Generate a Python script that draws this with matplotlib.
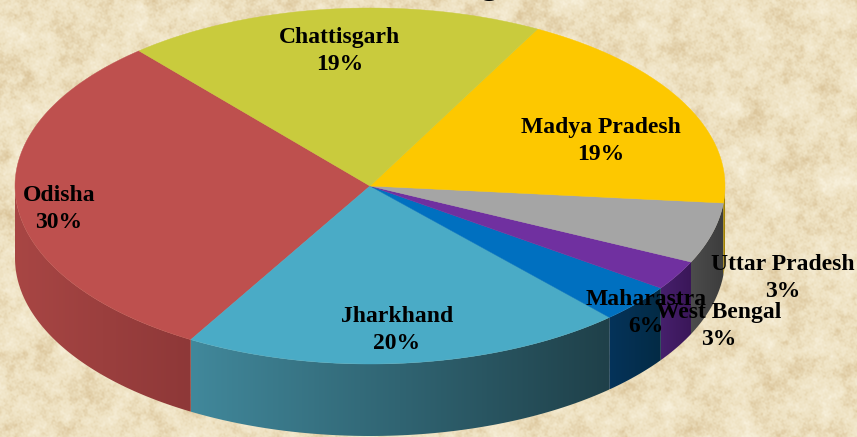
import numpy as np
import matplotlib
matplotlib.use("Agg")
import matplotlib.pyplot as plt
from matplotlib.colors import LinearSegmentedColormap
from matplotlib.patches import Polygon

# share of each slice as drawn, counter-clockwise from Odisha
shares = [30.3, 20.2, 3.5, 2.7, 5.5, 18.7, 19.1]
top_colors = ['#BE504E', '#4AABC6', '#0070C0', '#7030A0', '#A5A5A5', '#FDC800', '#C9CB3D']
side_left = ['#A84644', '#41889B', '#05335A', '#46206C', '#4C4C4C', '#B08C00', '#8F9030']
side_right = ['#8E3838', '#1F4049', '#032B45', '#3A1658', '#3C3C3C', '#A08000', '#8F9030']

# slice labels as printed on the chart
names = ['Odisha', 'Jharkhand', 'Maharastra', 'West Bengal', 'Uttar Pradesh', 'Madya Pradesh', 'Chattisgarh']
percents = ['30%', '20%', '6%', '3%', '3%', '19%', '19%']
label_x = [59, 397, 646, 719, 783, 601, 340]
label_y = [209, 330, 313, 326, 278, 141, 51]

W, H = 857, 437
CX, CY = 370, 186
RX, RY = 355, 178
DEPTH = 72
START = 130.6


def rim(a0, a1):
    t = np.radians(np.linspace(a0, a1, 120))
    return CX + RX * np.cos(t), CY - RY * np.sin(t)


fig = plt.figure(figsize=(W / 100, H / 100), dpi=100)
ax = fig.add_axes([0, 0, 1, 1])

# parchment background, many crossed waves so it reads as mottling
yy, xx = np.mgrid[0:H, 0:W].astype(float)
tex = np.zeros_like(xx)
for k in range(70):
    wavelength = 90 * 0.95 ** k
    direction = k * 2.39996
    tex += wavelength ** 0.25 * np.sin(2 * np.pi * (xx * np.cos(direction) + yy * np.sin(direction)) / wavelength + k * 1.7)
tex = (tex - tex.mean()) / tex.std()
paper = LinearSegmentedColormap.from_list('paper', ['#DCC69C', '#EEE1C1', '#F7EFD9'])
ax.imshow(tex, cmap=paper, vmin=-3.2, vmax=3.2, extent=(0, W, H, 0), aspect='auto', zorder=0)

edges = START + np.cumsum([0] + shares) * 3.6

# walls of the front half
for i in range(len(shares)):
    a0 = max(edges[i], 180)
    a1 = min(edges[i + 1], 360)
    if a0 >= a1:
        continue
    x, y = rim(a0, a1)
    poly = np.r_[np.c_[x, y], np.c_[x[::-1], y[::-1] + DEPTH]]
    patch = Polygon(poly, closed=True, fc='none', ec='none')
    ax.add_patch(patch)
    cmap = LinearSegmentedColormap.from_list(f'wall{i}', [side_left[i], side_right[i]])
    im = ax.imshow(np.linspace(0, 1, 256)[None, :], cmap=cmap, aspect='auto', zorder=2,
                   extent=(x.min(), x.max(), y.max() + DEPTH, y.min()))
    im.set_clip_path(patch)

# top face
for i in range(len(shares)):
    x, y = rim(edges[i], edges[i + 1])
    poly = np.r_[[[CX, CY]], np.c_[x, y]]
    ax.add_patch(Polygon(poly, closed=True, fc=top_colors[i], ec=top_colors[i], lw=0.3, zorder=3))

for name, pct, lx, ly in zip(names, percents, label_x, label_y):
    ax.text(lx, ly, f'{name}\n{pct}', ha='center', va='center', fontsize=17, fontweight='bold',
            family='Liberation Serif', color='black', linespacing=1.32, zorder=5)

# tail of the title, cut off by the top of the picture
ax.text(489, -7, 'g', ha='center', va='baseline', fontsize=25, fontweight='bold',
        family='Liberation Serif', color='black', zorder=5, clip_on=False)

ax.set_xlim(0, W)
ax.set_ylim(H, 0)
ax.axis('off')
fig.savefig('out.png', dpi=100)
plt.close()
